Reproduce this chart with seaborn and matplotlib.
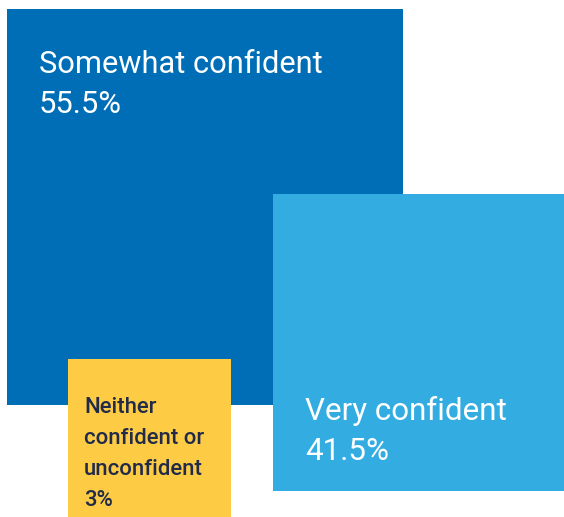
import matplotlib
matplotlib.use("Agg")
import matplotlib.pyplot as plt
from matplotlib.patches import Rectangle
import seaborn as sns

# Survey answers and their shares
categories = ["Somewhat confident", "Very confident", "Neither confident or unconfident"]
values = [55.5, 41.5, 3]
label_lines = [["Somewhat confident"], ["Very confident"], ["Neither", "confident or", "unconfident"]]
colors = ["#006EB6", "#33ACE2", "#FDCC44"]
text_colors = ["white", "white", "#222A4A"]

# Block layout in pixel units (left, top, width, height)
blocks = [(7, 9, 396, 396), (273, 194, 295, 297), (68, 359, 163, 165)]
text_pos = [(39, 73, 40, 22.2, "normal"), (305, 420, 40, 22.6, "normal"), (84, 413, 31, 15.9, "medium")]
zorders = [1, 2, 3]

sns.set_theme(style="white")
plt.rcParams["font.family"] = ["Roboto", "DejaVu Sans"]

W, H = 564, 517
fig = plt.figure(figsize=(W / 100, H / 100), dpi=100)
ax = fig.add_axes([0, 0, 1, 1])
ax.set_xlim(0, W)
ax.set_ylim(H, 0)
ax.axis("off")

for cat, val, lines, col, tcol, (x, y, w, h), (tx, ty, dy, fs, fw), z in zip(
        categories, values, label_lines, colors, text_colors, blocks, text_pos, zorders):
    ax.add_patch(Rectangle((x, y), w, h, facecolor=col, edgecolor="none", zorder=z))
    rows = lines + [f"{val:g}%"]
    for i, row in enumerate(rows):
        ax.text(tx, ty + i * dy, row, color=tcol, fontsize=fs, fontweight=fw,
                va="baseline", ha="left", zorder=z + 0.5)

fig.savefig("out.png", dpi=100)
